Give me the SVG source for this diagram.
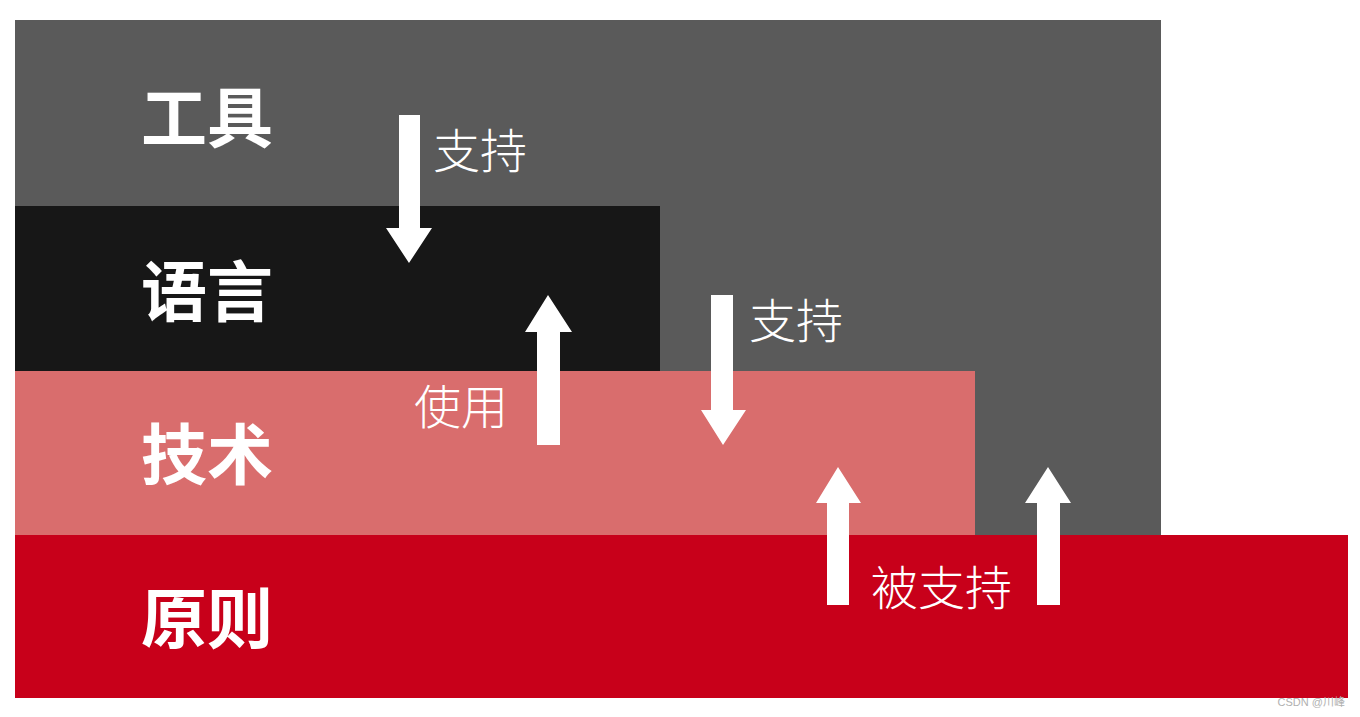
<svg xmlns="http://www.w3.org/2000/svg" width="1360" height="717" viewBox="0 0 1360 717">
<style>
.lbl{font-family:"Noto Sans CJK SC","Noto Sans",sans-serif;font-weight:bold;font-size:66px;fill:#ffffff;dominant-baseline:central}
.rel{font-family:"Liberation Serif","Noto Sans CJK SC",serif;font-size:47px;font-weight:300;fill:#ffffff;dominant-baseline:central}
.arrow{fill:#ffffff}
</style>
<rect x="0" y="0" width="1360" height="717" fill="#ffffff"/>
<g id="tools"><rect x="15" y="20" width="1146" height="515" fill="#5a5a5a"/><text class="lbl" x="141" y="113">工具</text></g>
<g id="language"><rect x="15" y="206" width="645" height="165" fill="#171717"/><text class="lbl" x="141" y="287">语言</text></g>
<g id="technology"><rect x="15" y="371" width="960" height="164" fill="#d96d6d"/><text class="lbl" x="141" y="450">技术</text></g>
<g id="principle"><rect x="15" y="535" width="1333" height="163" fill="#c8001a"/><text class="lbl" x="141" y="614">原则</text></g>
<g id="connectors">
<polygon class="arrow" points="399,115 420,115 420,228 432,228 409,263 386,228 399,228"/>
<polygon class="arrow" points="537,445 560,445 560,332 572,332 548,295 525,332 537,332"/>
<polygon class="arrow" points="711,295 733,295 733,410 746,410 723,445 701,410 711,410"/>
<polygon class="arrow" points="827,605 849,605 849,503 861,503 838,467 816,503 827,503"/>
<polygon class="arrow" points="1037,605 1060,605 1060,503 1071,503 1048,467 1025,503 1037,503"/>
<text class="rel" x="433" y="152">支持</text>
<text class="rel" x="749" y="322">支持</text>
<text class="rel" x="414" y="408">使用</text>
<text class="rel" x="871" y="589">被支持</text>
</g>
<text x="1345" y="706" text-anchor="end" font-family="Liberation Sans,Noto Sans CJK SC,sans-serif" font-size="11" fill="#b0b0b0">CSDN @川峰</text>
</svg>
